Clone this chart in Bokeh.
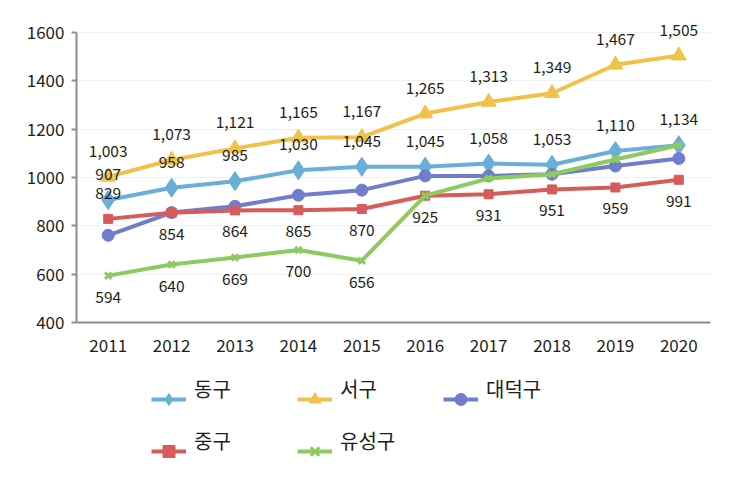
from bokeh.plotting import figure
from bokeh.layouts import column
from bokeh.models import FactorRange, Legend, LegendItem, ColumnDataSource, Range1d
from bokeh.core.properties import value
from bokeh.embed import file_html
from bokeh.resources import INLINE

years = ["2011", "2012", "2013", "2014", "2015", "2016", "2017", "2018", "2019", "2020"]
dong = [907, 958, 985, 1030, 1045, 1045, 1058, 1053, 1110, 1134]
seo = [1003, 1073, 1121, 1165, 1167, 1265, 1313, 1349, 1467, 1505]
daedeok = [761, 855, 881, 927, 948, 1007, 1007, 1014, 1048, 1079]
jung = [829, 854, 864, 865, 870, 925, 931, 951, 959, 991]
yuseong = [594, 640, 669, 700, 656, 925, 996, 1014, 1075, 1134]
names = ["동구", "서구", "대덕구", "중구", "유성구"]
yticks = [400, 600, 800, 1000, 1200, 1400, 1600]

FONT = "Noto Sans CJK KR"
C_DONG = "#6aafd7"
C_SEO = "#f0c24a"
C_DAE = "#6f7dcc"
C_JUNG = "#d65c5c"
C_YU = "#8dca62"
colors = [C_DONG, C_SEO, C_DAE, C_JUNG, C_YU]
markers = ["diamond", "triangle", "circle", "square", "x"]
msizes = [19, 15, 12, 9, 9]
series = [dong, seo, daedeok, jung, yuseong]

p = figure(width=730, height=365, x_range=FactorRange(*years), y_range=(400, 1700),
           output_backend="svg", toolbar_location=None,
           min_border_left=76, min_border_right=20, min_border_top=8, min_border_bottom=43)
p.outline_line_color = None
p.xgrid.grid_line_color = None
p.ygrid.grid_line_color = "#f0f0f0"
p.ygrid.grid_line_width = 1
p.yaxis.ticker = yticks
p.yaxis.bounds = (400, 1600)
for ax in (p.xaxis[0], p.yaxis[0]):
    ax.axis_line_color = "#8c8c8c"
    ax.axis_line_width = 2
    ax.major_label_text_font = FONT
    ax.major_label_text_font_size = "17px"
    ax.major_label_text_color = "#1e1e1e"
    ax.minor_tick_line_color = None
p.yaxis.major_tick_line_color = "#8c8c8c"
p.yaxis.major_tick_line_width = 2
p.yaxis.major_tick_out = 5
p.yaxis.major_tick_in = 0
p.yaxis.major_label_standoff = 7
p.xaxis.major_tick_line_color = None
p.xaxis.major_label_standoff = 10


def draw(fig, ys, c, m, s):
    src = ColumnDataSource(dict(x=years, y=ys))
    rl = fig.line("x", "y", source=src, color=c, line_width=4)
    if m == "x":
        rs = fig.scatter("x", "y", source=src, marker=m, size=s, line_width=3, color=c)
    else:
        rs = fig.scatter("x", "y", source=src, marker=m, size=s, color=c)
    return [rl, rs]


for ys, c, m, s in zip(series, colors, markers, msizes):
    draw(p, ys, c, m, s)


def labels(xs, ys, off):
    p.text(x=xs, y=ys, text=[f"{v:,}" for v in ys], y_offset=off, text_align="center",
           text_baseline="middle", text_font=value(FONT), text_font_size="15.5px",
           text_color="#1e1e1e")


labels(years, dong, -26)
labels(years, seo, -26)
labels(years[:1], jung[:1], -26)
labels(years[1:], jung[1:], 21)
labels(years[:5], yuseong[:5], 21)

# legend strip: series drawn outside its view range, used only for legend glyphs
q = figure(width=730, height=112, x_range=FactorRange(*years), y_range=Range1d(0, 1),
           output_backend="svg", toolbar_location=None,
           min_border=0, min_border_left=0, min_border_right=0, min_border_top=0, min_border_bottom=0)
q.axis.visible = False
q.grid.visible = False
q.outline_line_color = None

common = dict(orientation="horizontal", ncols=3, padding=0, margin=0, spacing=22,
              glyph_width=35, glyph_height=30, label_width=81, label_standoff=8,
              label_text_font=FONT, label_text_font_size="20px", label_text_color="#1e1e1e",
              border_line_color=None, background_fill_alpha=0)

# glyph row (samples only)
glyph_items = [LegendItem(label=" ", renderers=draw(q, ys, c, m, s))
               for ys, c, m, s in zip(series, colors, markers, msizes)]
q.add_layout(Legend(items=glyph_items, location=(75, 11), **common), "center")

# label row, set slightly higher than the samples as in the original
ghost = q.line(x=years, y=dong, line_alpha=0)
label_items = [LegendItem(label=n, renderers=[ghost]) for n in names]
q.add_layout(Legend(items=label_items, location=(75, 22), **common), "center")

layout = column(p, q, spacing=0)
open("out.html", "w").write(file_html(layout, INLINE))
